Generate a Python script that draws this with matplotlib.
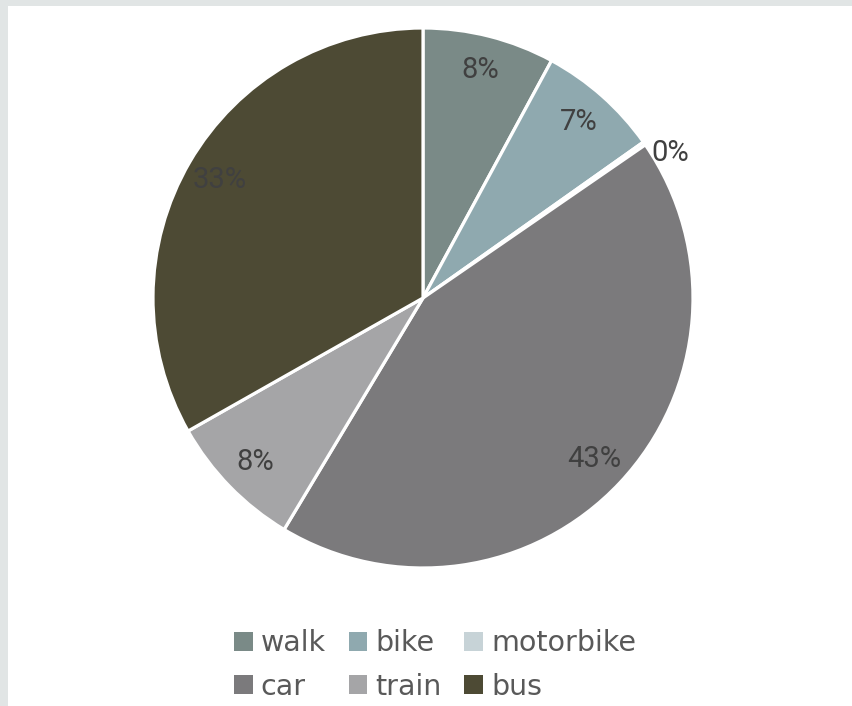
import matplotlib
matplotlib.use("Agg")
import matplotlib.pyplot as plt
from matplotlib.patches import Rectangle
import numpy as np

modes = ["walk", "bike", "motorbike", "car", "train", "bus"]
shares = [7.9, 7.3, 0.2, 43.2, 8.2, 33.2]
colors = ["#7A8A87", "#8FA9AF", "#C7D3D7", "#7B7A7C", "#A5A5A7", "#4D4A34"]

W, H = 853, 706
fig = plt.figure(figsize=(W / 100, H / 100), dpi=100)
fig.patch.set_facecolor("#E1E5E5")
fig.patches.append(Rectangle((8 / W, 0), 1, 1 - 6 / H, transform=fig.transFigure,
                             facecolor="white", edgecolor="none", zorder=-10))

cx, cy, r = 423, 298, 270
ax = fig.add_axes([(cx - r) / W, (H - cy - r) / H, 2 * r / W, 2 * r / H])
ax.set_facecolor("none")

wedges, texts, autotexts = ax.pie(
    shares, colors=colors, startangle=90, counterclock=False,
    autopct="%.0f%%", pctdistance=0.87,
    wedgeprops=dict(edgecolor="white", linewidth=2.3),
    textprops=dict(fontsize=21, color="#404040", family="Roboto"))

# the 0% label sits just outside the pie
w = wedges[2]
ang = np.deg2rad((w.theta1 + w.theta2) / 2)
autotexts[2].set_position((np.cos(ang) + 0.027, np.sin(ang) - 0.034))
autotexts[2].set_ha("left")

ax.set_xlim(-1, 1)
ax.set_ylim(-1, 1)
ax.set_aspect("equal")
ax.axis("off")

# legend fills column by column, so reorder to read row by row
order = [0, 3, 1, 4, 2, 5]
leg = fig.legend([wedges[i] for i in order], [modes[i] for i in order], ncol=3,
                 loc="center", bbox_to_anchor=(435 / W, 1 - 665 / H),
                 frameon=False, fontsize=20.5, labelcolor="#595959",
                 handlelength=0.66, handleheight=0.66, handletextpad=0.28,
                 columnspacing=0.8, labelspacing=0.55)
for h in leg.legend_handles:
    h.set_edgecolor("none")

fig.savefig("out.png", dpi=100)
